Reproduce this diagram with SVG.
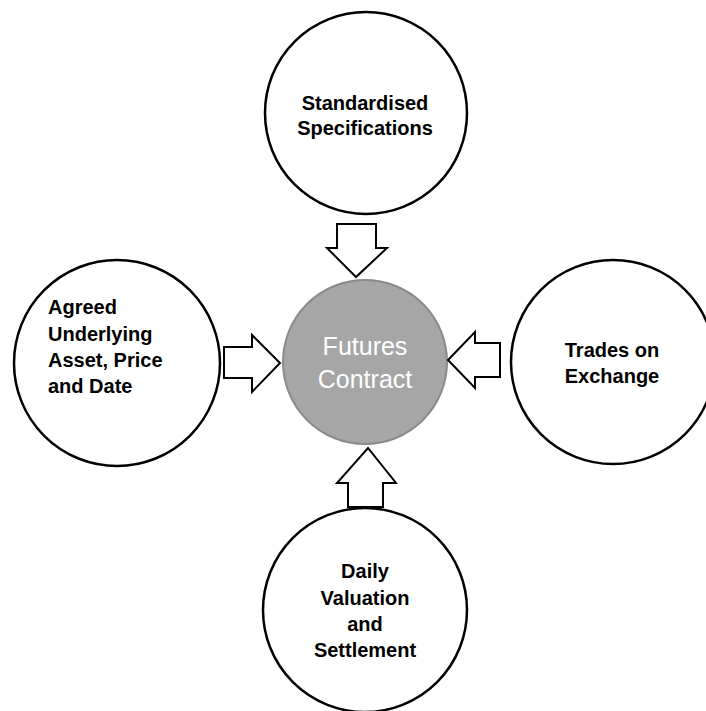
<svg xmlns="http://www.w3.org/2000/svg" width="706" height="711" viewBox="0 0 706 711">
  <style>
    .outer { fill: #ffffff; stroke: #000000; stroke-width: 2.5; }
    .core { fill: #a6a6a6; stroke: #8a8a8a; stroke-width: 2; }
    .lbl { font-family: "Liberation Sans", Arial, sans-serif; font-weight: bold; font-size: 20px; fill: #000000; }
    .mid { text-anchor: middle; }
    .core-lbl { font-family: "Liberation Sans", Arial, sans-serif; font-size: 25px; fill: #ffffff; text-anchor: middle; }
    .arrow { fill: #ffffff; stroke: #000000; stroke-width: 2; stroke-linejoin: miter; }
  </style>
  <rect width="706" height="711" fill="#ffffff"/>

  <g id="standardised-specifications">
    <circle class="outer" cx="366" cy="113" r="101"/>
    <text class="lbl mid" x="365" y="110">Standardised</text>
    <text class="lbl mid" x="365" y="135">Specifications</text>
  </g>

  <g id="agreed-terms">
    <circle class="outer" cx="117" cy="363" r="103"/>
    <text class="lbl" x="48" y="314">Agreed</text>
    <text class="lbl" x="48" y="341">Underlying</text>
    <text class="lbl" x="48" y="367">Asset, Price</text>
    <text class="lbl" x="48" y="393">and Date</text>
  </g>

  <g id="trades-on-exchange">
    <circle class="outer" cx="613" cy="362" r="102"/>
    <text class="lbl mid" x="612" y="357">Trades on</text>
    <text class="lbl mid" x="612" y="383">Exchange</text>
  </g>

  <g id="daily-valuation">
    <circle class="outer" cx="365" cy="610" r="102"/>
    <text class="lbl mid" x="365" y="578">Daily</text>
    <text class="lbl mid" x="365" y="605">Valuation</text>
    <text class="lbl mid" x="365" y="631">and</text>
    <text class="lbl mid" x="365" y="657">Settlement</text>
  </g>

  <g id="futures-contract">
    <circle class="core" cx="365" cy="362" r="82"/>
    <text class="core-lbl" x="365" y="355">Futures</text>
    <text class="core-lbl" x="365" y="388">Contract</text>
  </g>

  <g id="connectors">
    <!-- down arrow from top -->
    <polygon class="arrow" points="337,224 376,224 376,248 387,248 356,277 327,248 337,248"/>
    <!-- right arrow from left -->
    <polygon class="arrow" points="224,347 252,347 252,335 280,363 252,392 252,378 224,378"/>
    <!-- left arrow from right -->
    <polygon class="arrow" points="500,343 475,343 475,332 448,360 475,388 475,377 500,377"/>
    <!-- up arrow from bottom -->
    <polygon class="arrow" points="348,507 348,483 337,483 368,448 396,483 383,483 383,507"/>
  </g>
</svg>
